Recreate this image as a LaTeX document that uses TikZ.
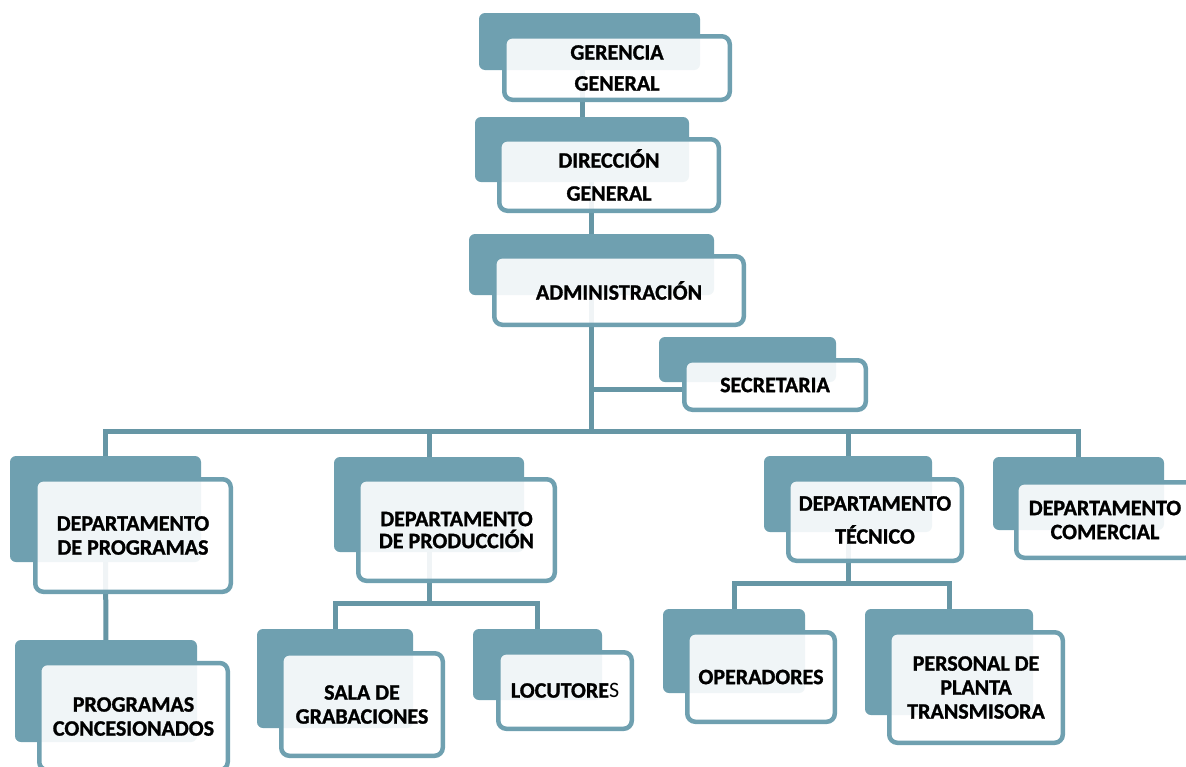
\documentclass[tikz,border=0pt]{standalone}
\usepackage{fontspec}
\setmainfont{Carlito}[BoldFeatures={FakeBold=1.2}]
\usetikzlibrary{backgrounds}
\definecolor{orgblue}{RGB}{111,160,176}
\definecolor{orgline}{RGB}{102,150,165}
\tikzset{
  every picture/.append style={line cap=round,line join=round},
  org back/.style={fill=orgblue,rounded corners=6pt,inner sep=0pt},
  org front/.style={draw=orgblue,line width=4.5pt,fill=white,fill opacity=0.9,text opacity=1,
    rounded corners=8pt,inner sep=0pt,align=center,font=\bfseries\fontsize{22}{24}\selectfont},
  org link/.style={orgline,line width=5pt}
}
\begin{document}
\begin{tikzpicture}[x=1pt,y=-1pt]
\useasboundingbox (0,0) rectangle (1186,766);
% top of the chart
\node[org back,minimum width=221pt,minimum height=57pt] (gg-b) at (589.5,41.5) {};
\node[org front,minimum width=225.5pt,minimum height=63.5pt] (gg) at (617,68) {GERENCIA\\[7pt]GENERAL};
\node[org back,minimum width=214pt,minimum height=65pt] (dg-b) at (582,149.5) {};
\node[org front,minimum width=219.5pt,minimum height=71.5pt] (dg) at (609,175) {DIRECCIÓN\\[9pt]GENERAL};
\node[org back,minimum width=245pt,minimum height=61pt] (ad-b) at (591.5,264.5) {};
\node[org front,minimum width=249.5pt,minimum height=68.5pt] (ad) at (619,290.5) {ADMINISTRACIÓN};
\node[org back,minimum width=177pt,minimum height=45pt] (sec-b) at (747.5,359.5) {};
\node[org front,minimum width=181.5pt,minimum height=49.5pt] (sec) at (775,385) {SECRETARIA};
% departments
\node[org back,minimum width=191pt,minimum height=106pt] (prog-b) at (105.5,509) {};
\node[org front,minimum width=195.5pt,minimum height=112.5pt] (prog) at (133,535.5) {DEPARTAMENTO\\DE PROGRAMAS};
\node[org back,minimum width=190pt,minimum height=95pt] (prod-b) at (429,504.5) {};
\node[org front,minimum width=196.5pt,minimum height=101.5pt] (prod) at (456.5,530) {DEPARTAMENTO\\[-2pt]DE PRODUCCIÓN};
\node[org back,minimum width=168pt,minimum height=76pt] (tec-b) at (848,494) {};
\node[org front,minimum width=173.5pt,minimum height=81.5pt] (tec) at (875,520) {DEPARTAMENTO\\[9pt]TÉCNICO};
\node[org back,minimum width=171pt,minimum height=73pt] (com-b) at (1078.5,493.5) {};
\node[org front,minimum width=177.5pt,minimum height=75.5pt] (com) at (1105,520) {DEPARTAMENTO\\COMERCIAL};
% lower level
\node[org back,minimum width=182pt,minimum height=102pt] (conc-b) at (106,691) {};
\node[org front,minimum width=188.5pt,minimum height=107pt] (conc) at (133.5,716.5) {PROGRAMAS\\CONCESIONADOS};
\node[org back,minimum width=156pt,minimum height=99pt] (sala-b) at (335,678.5) {};
\node[org front,minimum width=161.5pt,minimum height=102.5pt] (sala) at (362,704.5) {SALA DE\\GRABACIONES};
\node[org back,minimum width=129pt,minimum height=71pt] (locu-b) at (537.5,664.5) {};
\node[org front,minimum width=133.5pt,minimum height=76.5pt] (locu) at (565,690.5) {LOCUTORE{\mdseries S}};
\node[org back,minimum width=142pt,minimum height=84pt] (ope-b) at (734,651) {};
\node[org front,minimum width=147.5pt,minimum height=89.5pt] (ope) at (761,677) {OPERADORES};
\node[org back,minimum width=168pt,minimum height=106pt] (pers-b) at (949,662) {};
\node[org front,minimum width=173.5pt,minimum height=110.5pt] (pers) at (976,687.5) {PERSONAL DE\\PLANTA\\TRANSMISORA};
\coordinate (mainbus) at (592,431);
\coordinate (prodbus) at (429,603);
\coordinate (tecbus) at (848,583);
\begin{scope}[on background layer]
\fill[white] (0,0) rectangle (1186,766);
\draw[org link] (dg-b) -- (dg-b |- gg-b);
\draw[org link] (ad-b) -- (ad-b |- dg-b);
\draw[org link] (ad-b) -- (ad-b |- mainbus);
\draw[org link] ([yshift=-4pt]sec.west) -- ([yshift=-4pt]sec.west -| ad-b);
\draw[org link] (prog-b) |- (com-b |- mainbus) -- (com-b);
\draw[org link] (prod-b) -- (prod-b |- mainbus);
\draw[org link] (tec-b) -- (tec-b |- mainbus);
\draw[org link] (prog-b) -- (conc-b);
\draw[org link] (prod-b) -- (prodbus);
\draw[org link] (sala-b) |- (locu-b |- prodbus) -- (locu-b);
\draw[org link] (tec-b) -- (tecbus);
\draw[org link] (ope-b) |- (pers-b |- tecbus) -- (pers-b);
\end{scope}
\end{tikzpicture}
\end{document}
